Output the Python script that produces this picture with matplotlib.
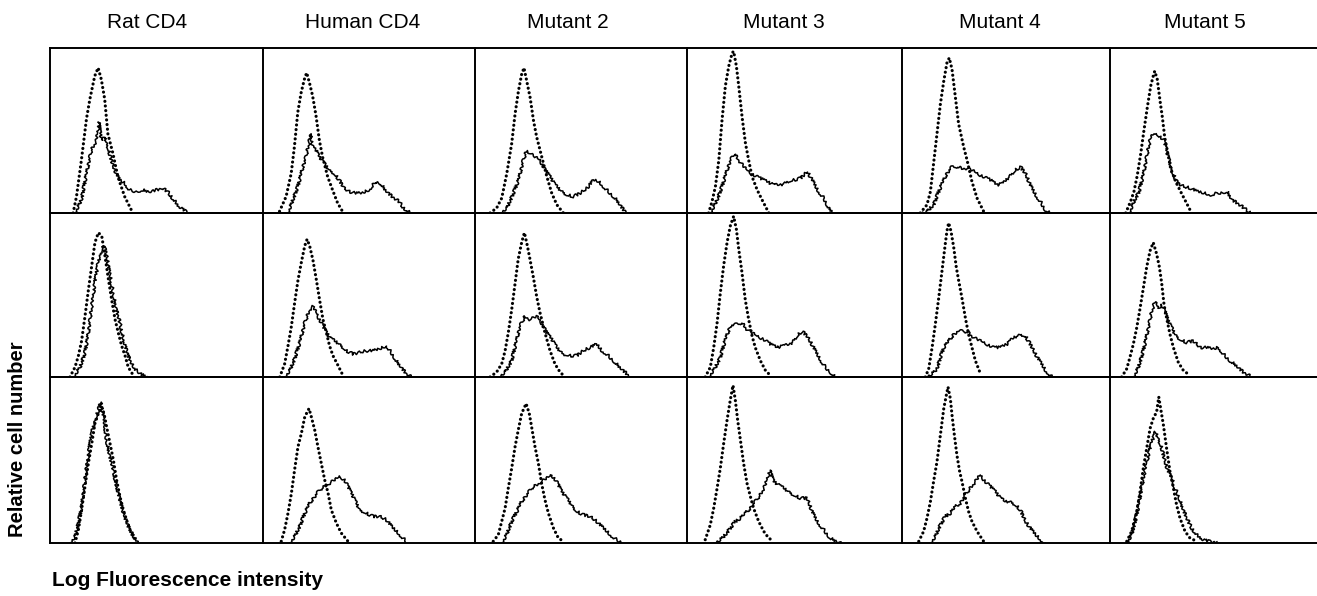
import matplotlib.pyplot as plt

plt.rcParams['font.family'] = ['Liberation Sans', 'DejaVu Sans']

columns = ["Rat CD4", "Human CD4", "Mutant 2", "Mutant 3", "Mutant 4", "Mutant 5"]

# (channel, relative count); dotted = control, solid = stained
# row 1
rat1_dot = [(10.9, 0), (12.5, 10), (14.8, 32), (17.2, 57), (18.8, 69), (21.1, 83), (22.7, 88), (24.2, 81),
            (25.8, 69), (27.3, 48), (29.7, 36), (32.0, 22), (35.2, 10), (38.3, 2)]
rat1_sol = [(11.7, 0), (14.8, 8), (17.2, 24), (19.5, 38), (21.9, 44), (23.1, 55), (24.2, 44), (25.8, 46),
            (27.3, 40), (28.9, 32), (30.5, 26), (32.8, 20), (35.2, 18), (37.5, 14), (40.6, 13), (43.8, 14),
            (46.9, 13), (50.0, 14), (53.1, 15), (55.5, 13), (57.8, 9), (60.9, 4), (64.1, 1), (65.6, 0)]
hum1_dot = [(7.8, 1), (10.9, 10), (13.3, 24), (14.8, 40), (16.4, 61), (18.0, 73), (19.5, 81), (20.6, 85),
            (21.9, 79), (23.4, 71), (25.0, 59), (26.6, 44), (28.1, 34), (30.5, 22), (32.8, 14), (35.2, 6),
            (37.5, 1)]
hum1_sol = [(11.7, 0), (14.1, 8), (16.4, 16), (18.8, 28), (20.3, 34), (21.9, 44), (22.7, 48), (23.4, 40),
            (25.0, 38), (26.6, 34), (28.9, 30), (31.3, 26), (33.6, 24), (35.9, 20), (38.3, 15), (40.6, 13),
            (43.8, 12), (46.9, 12), (50.0, 14), (53.1, 19), (55.5, 18), (57.8, 14), (60.9, 10), (64.1, 7),
            (66.4, 3), (69.5, 0)]
mut2_1_dot = [(7.1, 0), (10.2, 3), (12.6, 9), (15.0, 24), (17.3, 42), (18.9, 60), (20.5, 74), (22.0, 84),
              (23.1, 88), (24.4, 80), (26.0, 70), (27.6, 56), (29.1, 46), (31.5, 34), (33.9, 22), (36.2, 12),
              (38.6, 5), (41.7, 0)]
mut2_1_sol = [(11.8, 0), (15.0, 3), (18.1, 12), (20.5, 20), (22.8, 32), (24.4, 38), (26.0, 36), (28.3, 34),
              (30.7, 32), (33.1, 26), (35.4, 22), (37.8, 17), (40.2, 14), (43.3, 11), (46.5, 10), (49.6, 12),
              (52.8, 15), (55.9, 20), (58.3, 19), (60.6, 16), (63.8, 12), (66.9, 8), (70.1, 2), (72.4, 0)]
mut3_1_dot = [(10.2, 0), (11.8, 7), (13.4, 16), (15.0, 32), (16.5, 56), (18.1, 77), (19.7, 89), (21.3, 97),
              (22.0, 98), (23.3, 89), (24.4, 77), (26.0, 58), (27.6, 42), (29.1, 32), (30.7, 22), (33.1, 14),
              (35.4, 8), (38.6, 0)]
mut3_1_sol = [(11.0, 0), (14.2, 8), (16.5, 16), (18.9, 26), (20.5, 32), (22.4, 36), (24.4, 32), (26.8, 28),
              (29.1, 25), (31.5, 23), (34.6, 21), (37.8, 19), (40.9, 17), (44.1, 17), (47.2, 19), (50.4, 20),
              (53.5, 21), (56.7, 25), (59.1, 20), (61.4, 14), (64.6, 9), (66.9, 3), (69.3, 0)]
mut4_1_dot = [(8.6, 0), (11.8, 5), (13.4, 13), (14.9, 30), (16.5, 48), (18.1, 66), (19.7, 80), (21.2, 91),
              (22.3, 94), (23.6, 87), (25.2, 70), (26.7, 54), (29.1, 40), (30.7, 32), (33.0, 19), (35.4, 9),
              (38.5, 1)]
mut4_1_sol = [(7.9, 0), (11.8, 1), (14.9, 5), (17.3, 13), (18.9, 18), (21.2, 24), (23.6, 28), (25.9, 28),
              (28.3, 27), (30.7, 27), (33.0, 26), (35.4, 24), (38.5, 22), (41.7, 20), (44.8, 17), (47.9, 18),
              (51.1, 23), (53.5, 26), (55.8, 28), (58.2, 24), (60.5, 17), (62.9, 11), (65.3, 7), (67.6, 2),
              (69.9, 0)]
mut5_1_dot = [(7.4, 0), (9.7, 7), (11.3, 13), (12.9, 23), (14.5, 36), (16.0, 50), (17.6, 64), (19.2, 77),
              (20.4, 83), (21.1, 86), (22.3, 81), (23.6, 68), (24.7, 58), (25.8, 46), (27.0, 38), (28.6, 27),
              (31.0, 19), (33.3, 13), (35.7, 7), (38.1, 1)]
mut5_1_sol = [(9.0, 0), (11.3, 7), (13.7, 13), (16.0, 25), (17.6, 36), (19.2, 46), (20.8, 48), (23.1, 47),
              (25.5, 44), (27.0, 36), (29.4, 25), (31.8, 18), (34.9, 16), (38.1, 15), (41.2, 13), (44.3, 12),
              (47.5, 11), (50.6, 12), (55.3, 13), (57.7, 8), (60.1, 6), (63.2, 3), (66.4, 0)]

# row 2
rat2_dot = [(9.4, 0), (11.8, 6), (13.4, 13), (14.9, 22), (16.5, 37), (18.1, 53), (19.7, 68), (21.2, 82),
            (22.8, 88), (24.4, 86), (25.9, 74), (27.5, 60), (29.1, 47), (30.7, 35), (32.2, 27), (33.8, 19),
            (35.4, 13), (36.9, 6), (39.3, 1)]
rat2_sol = [(11.0, 0), (14.2, 6), (16.5, 15), (18.1, 27), (19.7, 43), (21.2, 58), (22.8, 70), (24.4, 78),
            (25.5, 80), (26.7, 74), (28.3, 62), (29.9, 51), (31.4, 41), (33.0, 33), (34.6, 23), (36.9, 13),
            (39.3, 6), (42.5, 2), (45.6, 0)]
hum2_dot = [(7.9, 0), (10.2, 8), (11.8, 19), (13.4, 31), (14.9, 45), (16.5, 59), (18.1, 70), (19.7, 80),
            (20.8, 84), (22.0, 80), (23.6, 71), (25.2, 59), (26.7, 47), (28.3, 35), (29.9, 27), (31.4, 19),
            (33.0, 13), (35.4, 7), (37.7, 1)]
hum2_sol = [(10.2, 0), (12.6, 4), (14.9, 11), (17.3, 21), (19.7, 33), (22.0, 41), (23.6, 43), (25.2, 39),
            (26.7, 35), (29.1, 29), (31.4, 24), (33.8, 22), (36.2, 20), (39.3, 16), (42.5, 14), (45.6, 15),
            (48.7, 16), (51.9, 16), (55.0, 17), (58.2, 19), (60.5, 15), (62.9, 10), (65.3, 6), (67.6, 2),
            (70.0, 0)]
mut2_2_dot = [(7.1, 0), (10.2, 3), (12.6, 8), (14.2, 16), (15.7, 27), (17.3, 41), (18.9, 57), (20.4, 72),
              (22.0, 82), (23.3, 88), (24.7, 80), (25.9, 72), (27.5, 61), (29.1, 49), (30.7, 39), (33.0, 27),
              (35.4, 16), (37.7, 8), (40.1, 3), (42.5, 0)]
mut2_2_sol = [(11.0, 0), (14.2, 3), (17.3, 10), (19.7, 23), (21.2, 31), (23.6, 37), (25.9, 35), (29.1, 37),
              (31.4, 33), (33.8, 27), (36.2, 23), (38.5, 18), (41.7, 14), (44.8, 13), (48.0, 13), (51.1, 16),
              (54.2, 18), (57.4, 20), (59.7, 16), (62.1, 14), (65.3, 10), (68.4, 6), (70.8, 3), (73.1, 0)]
mut3_2_dot = [(8.6, 0), (11.0, 6), (12.6, 18), (14.2, 33), (15.7, 51), (17.3, 68), (18.9, 82), (20.4, 92),
              (22.0, 98), (23.3, 90), (24.4, 78), (25.9, 64), (27.5, 47), (29.1, 35), (30.7, 25), (32.2, 18),
              (34.6, 10), (37.0, 4), (39.3, 1)]
mut3_2_sol = [(10.2, 0), (13.4, 6), (15.7, 12), (18.1, 23), (20.4, 31), (22.8, 32), (25.9, 33), (28.3, 29),
              (30.7, 27), (33.0, 25), (36.2, 23), (39.3, 20), (42.5, 18), (45.6, 19), (48.7, 20), (51.9, 25),
              (54.2, 28), (56.6, 25), (59.7, 18), (62.1, 12), (65.3, 6), (67.6, 3), (70.0, 0)]
mut4_2_dot = [(11.0, 0), (12.6, 5), (14.2, 18), (15.7, 32), (17.3, 48), (18.9, 65), (20.4, 81), (21.2, 89),
              (22.0, 94), (23.1, 89), (24.4, 79), (25.6, 67), (26.7, 59), (28.3, 48), (29.9, 36), (31.4, 26),
              (33.0, 18), (34.6, 10), (37.0, 2)]
mut4_2_sol = [(11.0, 0), (14.2, 2), (16.5, 5), (18.1, 12), (19.7, 18), (22.0, 22), (24.4, 26), (26.7, 28),
              (29.1, 28), (31.4, 27), (33.8, 24), (37.0, 22), (40.1, 20), (43.2, 18), (46.4, 18), (49.5, 20),
              (52.7, 24), (55.8, 26), (58.2, 25), (60.5, 20), (62.9, 14), (65.3, 9), (67.6, 4), (70.8, 0)]
mut5_2_dot = [(5.5, 0), (7.9, 5), (9.4, 12), (11.0, 20), (12.6, 30), (14.2, 42), (15.7, 54), (17.3, 67),
              (18.9, 77), (20.4, 82), (22.0, 75), (23.3, 67), (24.4, 57), (25.5, 44), (26.7, 36), (28.3, 26),
              (29.9, 18), (32.2, 9), (34.6, 4), (37.7, 1)]
mut5_2_sol = [(11.0, 0), (13.4, 6), (15.7, 16), (18.1, 30), (19.7, 40), (21.2, 46), (22.8, 42), (24.4, 44),
              (25.9, 40), (27.5, 34), (29.1, 30), (30.7, 26), (33.0, 23), (36.2, 21), (39.3, 22), (42.5, 18),
              (45.6, 18), (48.7, 17), (51.1, 18), (53.5, 14), (56.6, 10), (59.7, 7), (62.9, 3), (66.8, 0)]

# row 3
rat3_dot = [(11.8, 0), (13.4, 8), (14.9, 20), (16.5, 34), (18.1, 48), (19.7, 60), (21.2, 72), (22.8, 78),
            (24.4, 82), (25.5, 78), (26.7, 70), (28.3, 60), (29.9, 50), (31.4, 38), (33.0, 28), (34.6, 20),
            (36.1, 14), (37.7, 8), (40.1, 2)]
rat3_sol = [(9.4, 0), (11.8, 4), (13.4, 12), (14.9, 22), (16.5, 38), (18.1, 54), (19.7, 66), (21.2, 74),
            (22.8, 80), (23.9, 85), (25.2, 76), (26.7, 62), (28.3, 52), (29.9, 44), (31.4, 34), (33.0, 26),
            (34.6, 18), (37.0, 10), (39.3, 4), (41.7, 0)]
hum3_dot = [(8.6, 1), (10.2, 8), (11.8, 18), (13.4, 30), (14.9, 44), (16.5, 58), (18.1, 66), (19.7, 76),
            (21.7, 81), (22.8, 76), (24.4, 68), (25.9, 58), (27.5, 48), (29.1, 38), (30.7, 30), (32.2, 20),
            (34.6, 12), (36.9, 6), (40.1, 1)]
hum3_sol = [(12.6, 0), (14.9, 4), (17.3, 10), (19.7, 18), (22.0, 24), (24.4, 28), (26.7, 32), (29.1, 34),
            (31.4, 36), (33.8, 38), (36.2, 40), (38.5, 38), (40.9, 32), (43.2, 26), (45.6, 20), (48.7, 18),
            (51.9, 16), (55.0, 16), (58.2, 14), (61.3, 9), (64.5, 5), (67.6, 1)]
mut2_3_dot = [(8.6, 1), (11.0, 5), (12.6, 13), (14.2, 21), (15.7, 33), (17.3, 45), (18.9, 58), (20.4, 68),
              (22.0, 78), (24.1, 84), (25.6, 78), (26.7, 70), (28.3, 58), (29.9, 48), (31.4, 36), (33.0, 26),
              (34.6, 18), (37.0, 9), (39.3, 3), (41.7, 1)]
mut2_3_sol = [(12.6, 0), (14.9, 5), (17.3, 13), (19.7, 19), (22.0, 25), (24.4, 29), (26.7, 33), (29.1, 35),
              (31.4, 37), (33.8, 39), (36.2, 41), (38.5, 37), (40.9, 31), (43.2, 27), (45.6, 23), (48.0, 19),
              (51.1, 17), (54.2, 16), (57.4, 13), (60.5, 9), (63.7, 5), (66.8, 2), (70.0, 0)]
mut3_3_dot = [(8.6, 2), (11.0, 11), (12.6, 21), (14.2, 33), (15.7, 45), (17.3, 60), (18.9, 74), (20.4, 86),
              (21.7, 95), (22.8, 86), (23.9, 74), (25.2, 62), (26.7, 48), (28.3, 36), (29.9, 28), (31.4, 21),
              (33.8, 13), (36.2, 7), (38.5, 3), (40.9, 1)]
mut3_3_sol = [(12.6, 0), (15.7, 2), (18.1, 5), (20.4, 9), (22.8, 13), (25.2, 15), (27.5, 18), (29.9, 21),
              (32.2, 25), (34.6, 29), (37.0, 35), (39.0, 44), (40.9, 37), (43.2, 35), (45.6, 33), (48.0, 31),
              (50.3, 29), (53.5, 27), (56.6, 27), (59.0, 19), (61.3, 13), (64.5, 8), (67.6, 3), (70.8, 1),
              (73.1, 0)]
mut4_3_dot = [(7.9, 1), (10.2, 7), (11.8, 15), (13.4, 25), (14.9, 37), (16.5, 49), (18.1, 65), (19.7, 81),
              (20.9, 89), (21.7, 94), (22.8, 87), (23.6, 77), (24.7, 65), (25.9, 53), (27.2, 43), (28.3, 37),
              (29.9, 27), (31.4, 19), (33.0, 13), (35.4, 7), (38.5, 1)]
mut4_3_sol = [(13.4, 0), (15.7, 4), (18.1, 11), (20.4, 16), (22.8, 18), (25.2, 22), (27.5, 24), (29.9, 29),
              (32.2, 33), (34.6, 37), (36.9, 41), (39.3, 37), (41.7, 34), (44.0, 31), (46.4, 27), (48.7, 25),
              (51.1, 25), (53.5, 23), (55.8, 20), (58.2, 13), (60.5, 9), (62.9, 5), (65.3, 2), (67.6, 0)]
mut5_3_dot = [(7.9, 1), (10.2, 7), (12.6, 19), (14.2, 31), (15.7, 45), (17.3, 57), (18.9, 69), (20.4, 75),
              (22.0, 79), (23.0, 88), (23.9, 81), (25.2, 71), (26.7, 57), (28.3, 43), (29.9, 33), (31.4, 23),
              (33.0, 15), (35.4, 7), (37.7, 3), (40.9, 1)]
mut5_3_sol = [(7.9, 0), (10.2, 5), (12.6, 17), (14.9, 33), (17.3, 49), (19.7, 61), (21.5, 67), (22.8, 63),
              (24.4, 57), (25.9, 49), (27.5, 43), (29.1, 39), (30.7, 33), (32.2, 29), (33.8, 23), (36.2, 15),
              (38.5, 9), (40.9, 5), (44.0, 2), (47.2, 1), (50.3, 0)]

panels = [
    [(rat1_dot, rat1_sol), (hum1_dot, hum1_sol), (mut2_1_dot, mut2_1_sol),
     (mut3_1_dot, mut3_1_sol), (mut4_1_dot, mut4_1_sol), (mut5_1_dot, mut5_1_sol)],
    [(rat2_dot, rat2_sol), (hum2_dot, hum2_sol), (mut2_2_dot, mut2_2_sol),
     (mut3_2_dot, mut3_2_sol), (mut4_2_dot, mut4_2_sol), (mut5_2_dot, mut5_2_sol)],
    [(rat3_dot, rat3_sol), (hum3_dot, hum3_sol), (mut2_3_dot, mut2_3_sol),
     (mut3_3_dot, mut3_3_sol), (mut4_3_dot, mut4_3_sol), (mut5_3_dot, mut5_3_sol)],
]

# layout in pixels
W, H = 1317, 596
col_left = [50, 263, 475, 687, 902, 1110]
col_right = col_left[1:] + [W]
row_top = [48, 213, 377]
row_bot = [213, 377, 543]
title_x = [147, 363, 568, 784, 1000, 1205]
px_per_unit = 2.12

fig = plt.figure(figsize=(W / 100, H / 100), dpi=100)

for r in range(3):
    for c in range(6):
        x0, x1 = col_left[c], col_right[c]
        ax = fig.add_axes([x0 / W, 1 - row_bot[r] / H, (x1 - x0) / W, (row_bot[r] - row_top[r]) / H])
        dot, sol = panels[r][c]
        ax.plot([p[0] for p in dot], [p[1] for p in dot], color='black', lw=2.3,
                linestyle=(0, (0.01, 1.45)), dash_capstyle='round')
        line, = ax.plot([p[0] for p in sol], [p[1] for p in sol], color='black', lw=1.1)
        line.set_sketch_params(scale=1.4, length=2.5, randomness=6)
        ax.set_xlim(0, (x1 - x0) / px_per_unit)
        ax.set_ylim(0, 100)
        ax.set_xticks([])
        ax.set_yticks([])
        ax.patch.set_visible(False)
        ax.spines['right'].set_visible(False)
        for s in ('left', 'top', 'bottom'):
            ax.spines[s].set_linewidth(1.4)

for c in range(6):
    fig.text(title_x[c] / W, 1 - 22 / H, columns[c], fontsize=15, ha='center', va='center')

fig.text(18 / W, 1 - 439 / H, "Relative cell number", rotation=90, fontsize=14.5,
         fontweight='bold', ha='center', va='center')
fig.text(52 / W, 1 - 581 / H, "Log Fluorescence intensity", fontsize=15,
         fontweight='bold', ha='left', va='center')

fig.savefig("out.png", dpi=100)
